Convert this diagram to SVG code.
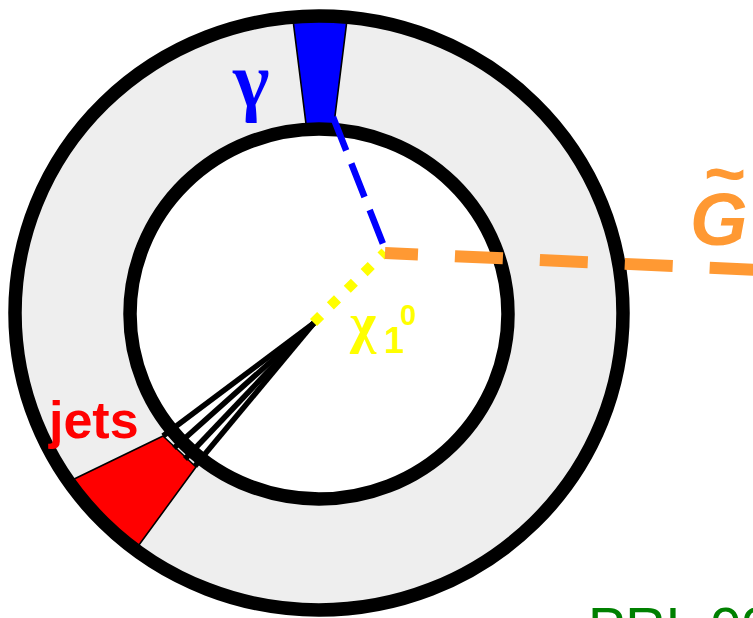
<svg xmlns="http://www.w3.org/2000/svg" width="753" height="618" viewBox="0 0 753 618">
  <style>
    .ring { stroke: #000; stroke-width: 13.5; }
    .tower { stroke: #000; stroke-width: 1.6; stroke-linejoin: round; }
    .lbl { font-family: "Liberation Sans", Arial, sans-serif; font-weight: bold; }
    .greek { font-family: "Liberation Serif", "Times New Roman", serif; font-weight: bold; }
    .jet { stroke: #000; stroke-width: 5.5; stroke-linecap: butt; fill: none; }
  </style>
  <rect width="753" height="618" fill="#fff"/>

  <!-- calorimeter barrel -->
  <g id="calorimeter">
    <ellipse cx="319" cy="313" rx="304" ry="297" fill="#eeeeee"/>
    <ellipse cx="319" cy="314" rx="189" ry="185" fill="#fff"/>
  </g>

  <!-- energy deposits in the calorimeter -->
  <g id="photon-tower">
    <polygon class="tower" points="293,20 347,20 334,124 306,124" fill="#0000ff"/>
  </g>
  <g id="jet-tower">
    <polygon class="tower" points="163,436 196,467 136,549 70,481" fill="#ff0000"/>
  </g>

  <g id="rings">
    <ellipse class="ring" cx="319" cy="313" rx="304" ry="297" fill="none"/>
    <ellipse class="ring" cx="319" cy="314" rx="189" ry="185" fill="none"/>
  </g>

  <!-- particle tracks -->
  <g id="connectors">
    <g id="jets">
      <line class="jet" x1="314" y1="323" x2="163" y2="436"/>
      <line class="jet" x1="314" y1="323" x2="174" y2="448"/>
      <line class="jet" x1="314" y1="323" x2="185" y2="459"/>
      <line class="jet" x1="314" y1="323" x2="195" y2="466"/>
    </g>
    <line id="photon-track" x1="333" y1="117" x2="385" y2="249" stroke="#0000ff" stroke-width="6.5" stroke-dasharray="36 14"/>
    <line id="neutralino-track" x1="313.5" y1="322.5" x2="385" y2="252" stroke="#ffff00" stroke-width="10" stroke-dasharray="10 13.7"/>
    <line id="gravitino-track" x1="385" y1="253" x2="760" y2="270" stroke="#ff9933" stroke-width="12" stroke-dasharray="48 37" stroke-dashoffset="15"/>
  </g>

  <!-- labels -->
  <g id="label-photon">
    <text class="greek" x="233" y="106" font-size="78" fill="#0000ff">γ</text>
  </g>
  <g id="label-jets">
    <text class="lbl" x="49" y="438" font-size="52" fill="#ff0000">jets</text>
  </g>
  <g id="label-neutralino" fill="#ffff00">
    <text class="greek" x="350" y="342" font-size="56">χ</text>
    <text class="lbl" x="384" y="353" font-size="36">1</text>
    <text class="lbl" x="400" y="325" font-size="29">0</text>
  </g>
  <g id="label-gravitino" fill="#ff9933">
    <text class="lbl" x="690" y="245" font-size="74" font-style="italic">G</text>
    <text class="lbl" x="704" y="198" font-size="72">~</text>
  </g>
  <g id="reference">
    <text x="588" y="646" font-family="Liberation Sans, Arial, sans-serif" font-size="56" fill="#008000">PRL 99</text>
  </g>
</svg>
